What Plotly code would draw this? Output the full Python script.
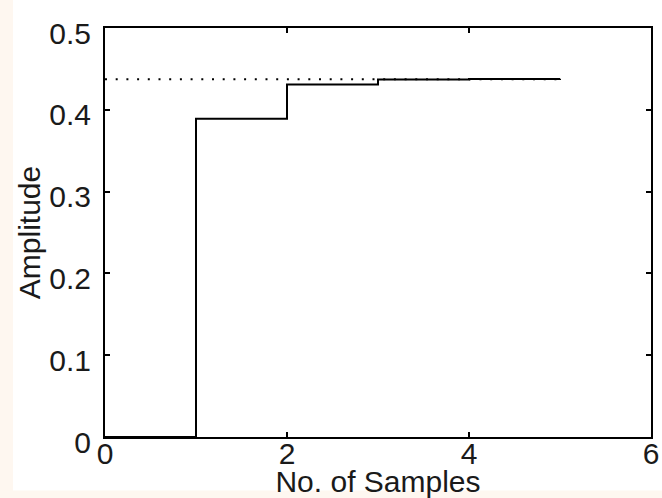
import plotly.graph_objects as go

# Step response samples
samples = [0, 1, 2, 3, 4, 5]
amplitude = [0.0, 0.389, 0.431, 0.437, 0.4377, 0.438]
final_value = 0.4375
final_x = [0, 5]

x_ticks = [0, 2, 4, 6]
x_ticktext = ["0", "2", "4", "6"]
y_ticks = [0, 0.1, 0.2, 0.3, 0.4, 0.5]
y_ticktext = ["0", "0.1", "0.2", "0.3", "0.4", "0.5"]

W, H = 662, 498
L, R, T, B = 105, 11, 28, 61
pw, ph = W - L - R, H - T - B

def px(xp):
    return (xp - L) / pw

def py(yp):
    return (H - B - yp) / ph

FONT = "Liberation Sans, Arial, Helvetica, sans-serif"
CREAM = "#FEF7F0"
FS_TICK = 30
FS_TITLE = 30
TXT = "#1a1a1a"

fig = go.Figure()
fig.add_trace(go.Scatter(
    x=final_x, y=[final_value, final_value], mode="lines",
    line=dict(color="black", width=2, dash="2px,8.7px"),
    hoverinfo="skip", showlegend=False))
fig.add_trace(go.Scatter(
    x=samples, y=amplitude, mode="lines", line_shape="hv",
    line=dict(color="black", width=2), showlegend=False))

axis_common = dict(
    showline=True, linecolor="black", linewidth=2, mirror="ticks",
    ticks="inside", ticklen=5, tickwidth=2, tickcolor="black",
    showgrid=False, zeroline=False,
    tickfont=dict(family=FONT, size=FS_TICK, color=TXT),
)

fig.update_xaxes(range=[0, 6], tickvals=x_ticks, ticktext=x_ticktext,
                 ticklabelstandoff=-11,
                 title=dict(text="No. of Samples", font=dict(family=FONT, size=FS_TITLE, color=TXT), standoff=6),
                 **axis_common)
fig.update_yaxes(range=[0, 0.5], tickvals=y_ticks, ticktext=y_ticktext,
                 title=dict(text="Amplitude", font=dict(family=FONT, size=FS_TITLE, color=TXT), standoff=0),
                 ticklabelshift=5, ticklabelstandoff=6,
                 **axis_common)

fig.update_layout(
    width=W, height=H,
    margin=dict(l=L, r=R, t=T, b=B, autoexpand=False),
    paper_bgcolor="white", plot_bgcolor="white",
    shapes=[
        dict(type="rect", xref="paper", yref="paper",
             x0=px(-5), x1=px(13), y0=py(H + 5), y1=py(-5),
             fillcolor=CREAM, line_width=0, layer="below"),
        dict(type="rect", xref="paper", yref="paper",
             x0=px(-5), x1=px(W + 5), y0=py(H + 5), y1=py(490.5),
             fillcolor=CREAM, line_width=0, layer="below"),
    ],
)

fig.write_html("out.html", config={"displayModeBar": False},
               post_script="document.body.style.margin='0';document.body.style.overflow='hidden';")
